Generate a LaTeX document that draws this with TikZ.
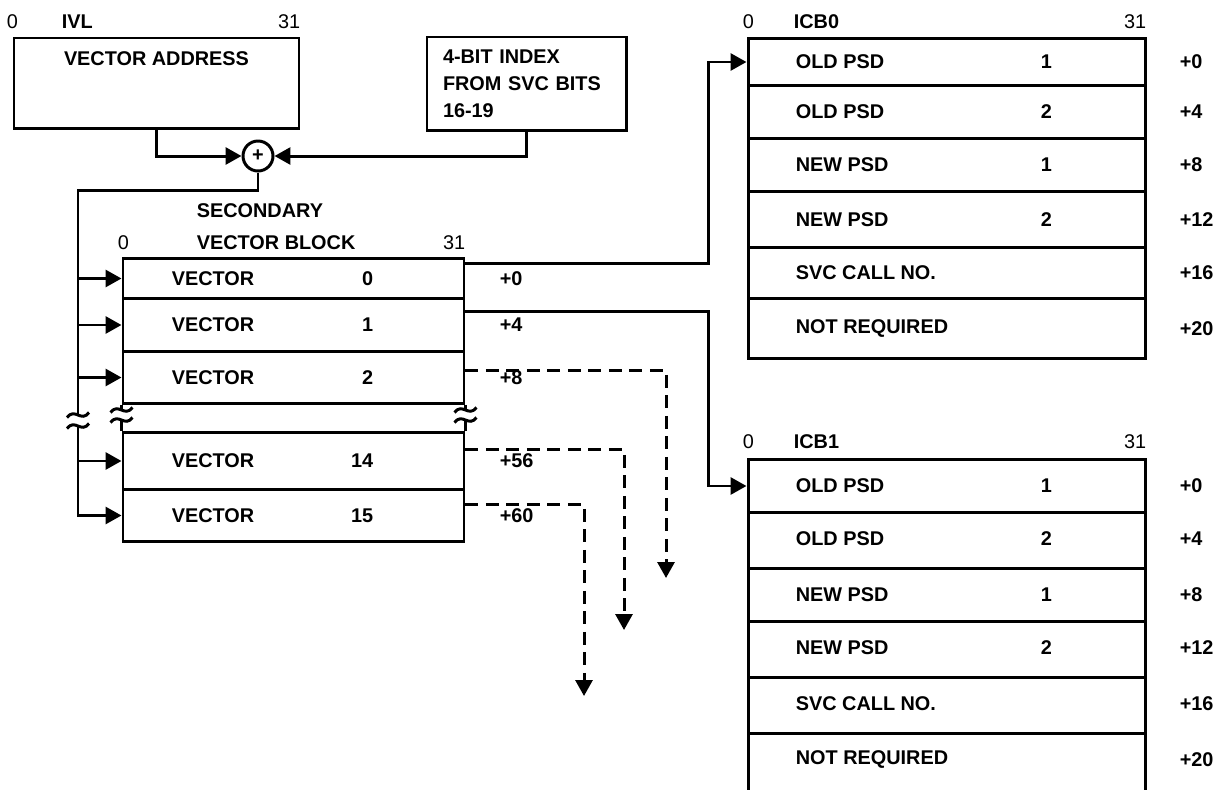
\documentclass[tikz,border=0pt]{standalone}
\usepackage{fontspec}
\setmainfont{Liberation Sans}
\usetikzlibrary{arrows.meta,positioning,calc}

\begin{document}
\begin{tikzpicture}[
  conn/.style={line width=1.7pt},
  arr/.style={conn,-{Triangle[length=0.32cm,width=0.34cm]}},
  darr/.style={arr,dash pattern=on 0.26cm off 0.15cm},
  cell/.style={draw,conn,inner sep=0pt,anchor=north},
  lbl/.style={inner sep=0pt,font=\fontsize{11.3}{13}\selectfont\bfseries},
  hdr/.style={inner sep=0pt,font=\fontsize{11.3}{13}\selectfont},
  brk/.pic={\draw[conn] (-0.22,-0.05) .. controls (-0.06,0.16) and (0.06,-0.16) .. (0.22,0.05);}]

  \clip (0,0) rectangle (24.42,-15.78);

  % IVL register
  \node[draw,conn,minimum width=5.70cm,minimum height=1.80cm] (ivl) at (3.13,-1.66) {};
  \node[lbl] at ([yshift=-0.44cm]ivl.north) {VECTOR ADDRESS};
  \node[hdr] at ([yshift=0.30cm]ivl.north west) {0};
  \node[lbl,anchor=west] at ([xshift=0.98cm,yshift=0.30cm]ivl.north west) {IVL};
  \node[hdr,anchor=east] at ([yshift=0.30cm]ivl.north east) {31};

  % index taken from the SVC
  \node[draw,conn,font=\fontsize{11.3}{15.3}\selectfont\bfseries,align=left,text width=3.34cm,inner xsep=0.32cm,minimum height=1.86cm] (idx) at (10.53,-1.67) {4-BIT INDEX\\FROM SVC BITS\\16-19};

  % adder
  \node[circle,draw,conn,minimum size=0.60cm,lbl] (sum) at (5.16,-3.12) {+};
  \draw[arr] (ivl.south) |- (sum.west);
  \draw[arr] (idx.south) |- (sum.east);

  \coordinate (bus) at (1.56,-3.80);
  \coordinate (busA) at (1.56,-8.30);
  \coordinate (busB) at (1.56,-8.52);
  \draw[conn] (sum.south) |- (bus) -- (busA);

  % secondary vector block
  \foreach \n/\t/\h/\ofs in {0/5.14/0.80/+0, 1/5.94/1.06/+4, 2/7.00/1.04/+8, 14/8.62/1.14/+56, 15/9.76/1.04/+60} {
    \node[cell,minimum width=6.82cm,minimum height=\h cm] (vec\n) at (5.87,-\t) {};
    \node[lbl,anchor=west] at ([xshift=1.00cm]vec\n.west) {VECTOR};
    \node[lbl,anchor=east] at ([xshift=5.04cm]vec\n.west) {\n};
    \node[lbl,anchor=west] at ([xshift=0.68cm]vec\n.east) {\ofs};
    \draw[arr] (vec\n.west -| bus) -- (vec\n.west);
  }
  \draw[conn,line cap=rect] (busB) -- (vec15.west -| bus);
  \pic at (busA) {brk};
  \pic at (busB) {brk};

  \node[hdr] at ([xshift=0.04cm,yshift=0.28cm]vec0.north west) {0};
  \node[hdr,anchor=east] at ([yshift=0.28cm]vec0.north east) {31};
  \node[lbl,anchor=west] (svb) at ([xshift=1.50cm,yshift=0.28cm]vec0.north west) {VECTOR BLOCK};
  \node[lbl,anchor=west] at ([yshift=0.64cm]svb.west) {SECONDARY};

  % broken sides between vector 2 and vector 14
  \draw[conn] (vec2.south west) -- ++(0,-0.10);
  \draw[conn] (vec2.south east) -- ++(0,-0.10);
  \draw[conn] (vec14.north west) -- ++(0,0.22);
  \draw[conn] (vec14.north east) -- ++(0,0.22);
  \pic at ([yshift=-0.10cm]vec2.south west) {brk};
  \pic at ([yshift=-0.10cm]vec2.south east) {brk};
  \pic at ([yshift=0.22cm]vec14.north west) {brk};
  \pic at ([yshift=0.22cm]vec14.north east) {brk};

  % ICB0
  \foreach \r/\t/\h/\txt/\nb/\ofs in {1/0.74/0.94/OLD PSD/1/+0, 2/1.68/1.06/OLD PSD/2/+4, 3/2.74/1.06/NEW PSD/1/+8, 4/3.80/1.12/NEW PSD/2/+12, 5/4.92/1.02/SVC CALL NO./{}/+16, 6/5.94/1.20/NOT REQUIRED/{}/+20} {
    \node[cell,minimum width=7.94cm,minimum height=\h cm] (icb0-\r) at (18.93,-\t) {};
    \node[lbl,anchor=west] at ([xshift=0.98cm]icb0-\r.west) {\txt};
    \node[lbl] at ([xshift=6.00cm]icb0-\r.west) {\nb};
    \node[lbl,anchor=west] at ([xshift=0.66cm]icb0-\r.east) {\ofs};
  }
  \node[hdr] at ([xshift=0.04cm,yshift=0.30cm]icb0-1.north west) {0};
  \node[lbl,anchor=west] at ([xshift=0.94cm,yshift=0.30cm]icb0-1.north west) {ICB0};
  \node[hdr,anchor=east] at ([yshift=0.30cm]icb0-1.north east) {31};

  % ICB1 (runs off the bottom)
  \foreach \r/\t/\h/\txt/\nb/\ofs in {1/9.16/1.06/OLD PSD/1/+0, 2/10.22/1.12/OLD PSD/2/+4, 3/11.34/1.06/NEW PSD/1/+8, 4/12.40/1.12/NEW PSD/2/+12, 5/13.52/1.12/SVC CALL NO./{}/+16, 6/14.64/1.40/NOT REQUIRED/{}/+20} {
    \node[cell,minimum width=7.94cm,minimum height=\h cm] (icb1-\r) at (18.93,-\t) {};
    \node[lbl,anchor=west] at ([xshift=0.98cm,yshift=-0.56cm]icb1-\r.north west) {\txt};
    \node[lbl] at ([xshift=6.00cm,yshift=-0.56cm]icb1-\r.north west) {\nb};
    \node[lbl,anchor=west] at ([xshift=0.66cm,yshift=-0.56cm]icb1-\r.north east) {\ofs};
  }
  \node[hdr] at ([xshift=0.04cm,yshift=0.32cm]icb1-1.north west) {0};
  \node[lbl,anchor=west] at ([xshift=0.94cm,yshift=0.32cm]icb1-1.north west) {ICB1};
  \node[hdr,anchor=east] at ([yshift=0.32cm]icb1-1.north east) {31};

  % pointers out of the vector block
  \coordinate (jog) at (14.16,0);
  \draw[arr] ([yshift=0.30cm]vec0.east) -| (jog |- icb0-1.west) -- (icb0-1.west);
  \draw[arr] ([yshift=0.27cm]vec1.east) -| (jog |- icb1-1.west) -- (icb1-1.west);

  \coordinate (fall2) at (13.32,-11.56);
  \coordinate (fall14) at (12.48,-12.60);
  \coordinate (fall15) at (11.68,-13.92);
  \draw[darr] ([yshift=0.14cm]vec2.east) -| (fall2);
  \draw[darr] ([yshift=0.23cm]vec14.east) -| (fall14);
  \draw[darr] ([yshift=0.22cm]vec15.east) -| (fall15);

\end{tikzpicture}
\end{document}
